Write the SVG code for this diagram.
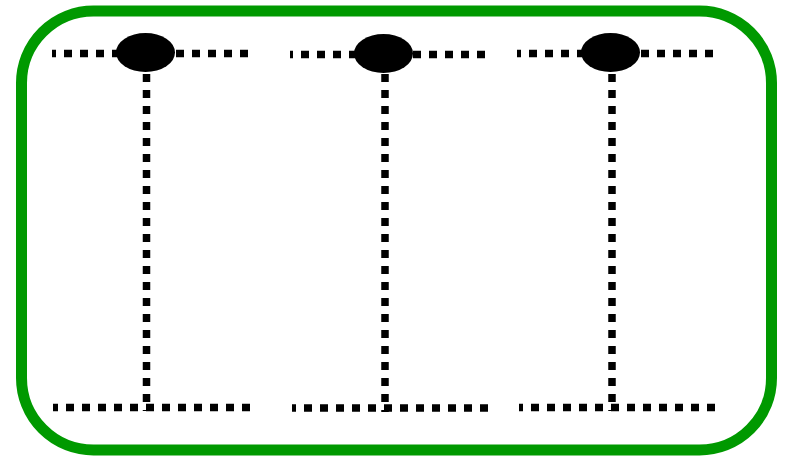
<svg xmlns="http://www.w3.org/2000/svg" width="785" height="457" viewBox="0 0 785 457">
  <style>
    .frame { fill: none; stroke: #009900; stroke-width: 11; }
    .dot { fill: none; stroke: #000; stroke-width: 7.5; stroke-dasharray: 8 8; }
    .node { fill: #000; }
  </style>
  <rect width="785" height="457" fill="#fff"/>
  <rect class="frame" x="21.5" y="11" width="750" height="439" rx="72" ry="72"/>
  <g id="connectors">
    <path class="dot" d="M248,53.5 H52"/>
    <path class="dot" d="M146.5,58 V411"/>
    <path class="dot" d="M250,407.5 H53"/>
    <path class="dot" d="M485,54.5 H290"/>
    <path class="dot" d="M385,58 V412"/>
    <path class="dot" d="M488,408 H292"/>
    <path class="dot" d="M713,53.5 H517"/>
    <path class="dot" d="M612,58 V411"/>
    <path class="dot" d="M715,407.5 H519"/>
  </g>
  <g id="node1"><ellipse class="node" cx="145.5" cy="52.5" rx="29.5" ry="19.5"/></g>
  <g id="node2"><ellipse class="node" cx="383.5" cy="53.5" rx="29.5" ry="19.5"/></g>
  <g id="node3"><ellipse class="node" cx="610.5" cy="52.5" rx="29.5" ry="19.5"/></g>
</svg>
